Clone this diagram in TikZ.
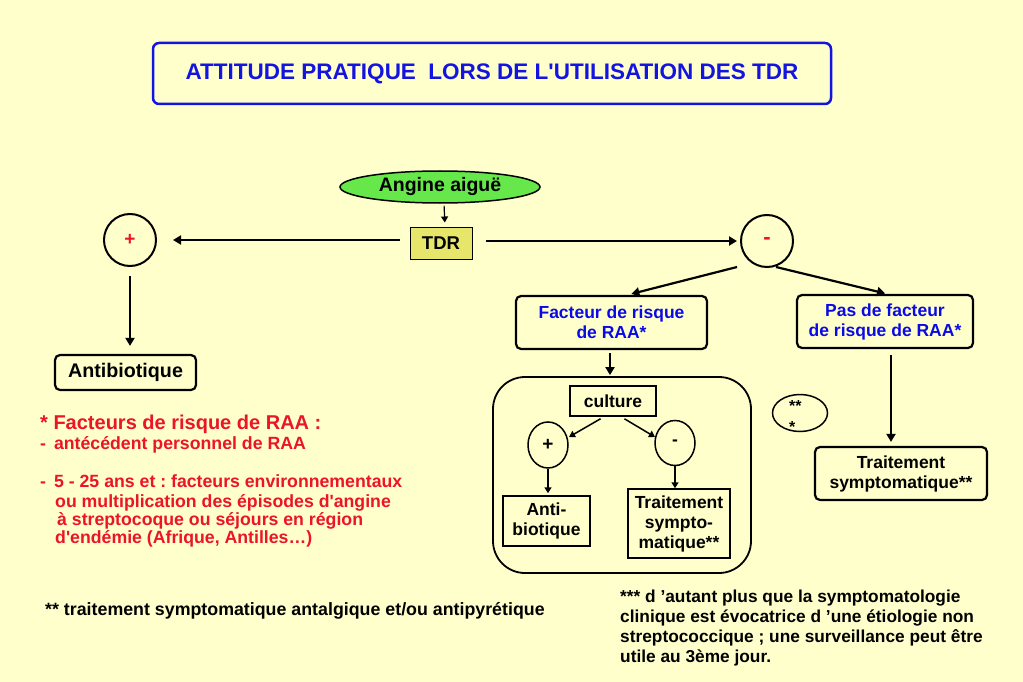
\documentclass[tikz,border=0pt]{standalone}
\usepackage{fontspec}
\setmainfont{Liberation Sans}
\usetikzlibrary{shapes.geometric,arrows.meta,calc}
\definecolor{bgyellow}{RGB}{255,255,204}
\definecolor{titleblue}{RGB}{20,20,225}
\definecolor{boxblue}{RGB}{10,10,230}
\definecolor{redtxt}{RGB}{235,20,40}
\definecolor{greenfill}{RGB}{102,232,74}
\definecolor{khaki}{RGB}{230,230,106}
\newcommand{\fs}[2]{\fontsize{#1}{#2}\selectfont}
\newcommand{\sq}{\textquotesingle}
\frenchspacing
\tikzset{
  every node/.style={font=\bfseries\fs{17.5}{20}, inner sep=0pt, align=center},
  rbox/.style={draw, line width=2.2pt, rounded corners=5pt},
  sbox/.style={draw, line width=1.5pt},
  ring/.style={draw, circle, line width=2pt},
  oval/.style={draw, ellipse, line width=1.5pt},
  arr/.style={line width=2.2pt, -{Triangle[length=8pt,width=9pt]}},
  sarr/.style={line width=1.5pt, -{Triangle[length=6pt,width=7pt]}},
  redline/.style={anchor=base west, text=redtxt, font=\bfseries\fs{17.7}{19.5}},
  blackline/.style={anchor=base west, font=\bfseries\fs{17.8}{20}},
}
\begin{document}
\begin{tikzpicture}[x=1pt,y=-1pt]
\fill[bgyellow] (0,0) rectangle (1023,682);
\useasboundingbox (0,0) rectangle (1023,682);

% title
\node[draw=titleblue, line width=2.5pt, rounded corners=6pt, minimum width=678pt, minimum height=61pt,
      text=titleblue, font=\bfseries\fs{22.5}{26}] (title) at (492,73.5)
  {ATTITUDE PRATIQUE\ \ LORS DE L\sq UTILISATION DES TDR};

% top part
\node[oval, fill=greenfill, minimum width=200pt, minimum height=32pt, font=\bfseries\fs{19.5}{22}] (angine) at (440,187) {Angine aiguë};
\node[draw, line width=1pt, fill=khaki, minimum width=62pt, minimum height=32pt, font=\bfseries\fs{18.5}{22}] (tdr) at (441,243) {TDR};
\node[ring, minimum size=52pt, text=redtxt, font=\bfseries\fs{19}{22}] (plus) at (130,240) {+};
\node[ring, minimum size=52pt, text=redtxt, font=\bfseries\fs{22}{24}] (minus) at (767,241) {-};
\node[rbox, minimum width=141pt, minimum height=35pt, font=\bfseries\fs{19.7}{22}] (antib) at (125.5,372.5) {Antibiotique};

\node[rbox, minimum width=191pt, minimum height=53pt, text=boxblue] (fact) at (611.5,322.5) {Facteur de risque\\de RAA*};
\node[rbox, minimum width=176pt, minimum height=53pt, text=boxblue] (pas) at (885,321.5) {Pas de facteur\\de risque de RAA*};

% container
\node[draw, line width=1.8pt, rounded corners=32pt, minimum width=258pt, minimum height=196pt] (cont) at (622,475) {};
\node[sbox, minimum width=86pt, minimum height=30pt] (culture) at (613,401) {culture};
\node[oval, minimum width=40pt, minimum height=46pt, font=\bfseries\fs{19}{22}] (cplus) at (548,445) {+};
\node[oval, minimum width=40pt, minimum height=45pt] (cminus) at (675,443) {-};
\node[sbox, minimum width=87pt, minimum height=50pt] (anti2) at (546.5,521) {Anti-\\biotique};
\node[sbox, minimum width=102pt, minimum height=69pt] (trait2) at (679,523.5) {Traitement\\sympto-\\matique**};

% stars ellipse
\node[oval, minimum width=55pt, minimum height=37pt] (stars) at (800,413) {};
\node[font=\bfseries\fs{16}{21}, align=left, anchor=north west] (starstxt) at (789,400) {**\\*};

\node[rbox, minimum width=172pt, minimum height=53pt] (trait3) at (901,473.5) {Traitement\\symptomatique**};

% connectors
\draw[sarr, line width=1.2pt, shorten <=2pt, shorten >=4pt] ([xshift=4pt]angine.south) -- ([xshift=4pt]tdr.north);
\draw[arr, shorten <=10pt, shorten >=16pt] (tdr.west |- plus.east) -- (plus.east);
\draw[arr, shorten <=13pt, shorten >=3pt] (tdr.east |- minus.west) -- (minus.west);
\draw[arr, shorten <=9pt, shorten >=8pt] (plus.south) -- (plus.south |- antib.north);
\draw[arr, shorten >=4pt] ([shift={(-30,26)}]minus.center) -- ([xshift=16pt]fact.north);
\draw[arr, shorten >=2pt] ([shift={(9,26)}]minus.center) -- ([xshift=2pt]pas.north);
\draw[arr, shorten <=3pt, shorten >=1pt] ([xshift=-1.5pt]fact.south) -- ([xshift=-1.5pt]fact.south |- cont.north);
\draw[sarr, shorten <=4pt] ([xshift=-9pt]culture.south) -- ([shift={(21,-8)}]cplus.center);
\draw[sarr, shorten <=4pt] ([xshift=8pt]culture.south) -- ([shift={(-20,-6)}]cminus.center);
\draw[sarr, shorten >=2pt] (cplus.south) -- (cplus.south |- anti2.north);
\draw[sarr] (cminus.south) -- (cminus.south |- trait2.north);
\draw[arr, shorten <=6pt, shorten >=4pt] ([xshift=6pt]pas.south) -- ([xshift=6pt]pas.south |- trait3.north);

% red text
\node[redline, font=\bfseries\fs{20}{24}] (r1) at (40,429) {* Facteurs de risque de RAA :};
\node[redline] (r2) at (40,449) {-\hspace{8pt}antécédent personnel de RAA};
\node[redline] (r3) at (40,487) {-\hspace{8pt}5 - 25 ans et : facteurs environnementaux};
\node[redline] (r4) at (55,507) {ou multiplication des épisodes d\sq angine};
\node[redline] (r5) at (57,525) {à streptocoque ou séjours en région};
\node[redline] (r6) at (55,543) {d\sq endémie (Afrique, Antilles…)};

% footnotes
\node[blackline] (f1) at (45,615) {** traitement symptomatique antalgique et/ou antipyrétique};
\node[anchor=north west, align=left, font=\bfseries\fs{17.3}{20}] (f2) at (620,590)
  {*** d ’autant plus que la symptomatologie\\clinique est évocatrice d ’une étiologie non\\streptococcique ; une surveillance peut être\\utile au 3ème jour.};
\end{tikzpicture}
\end{document}
